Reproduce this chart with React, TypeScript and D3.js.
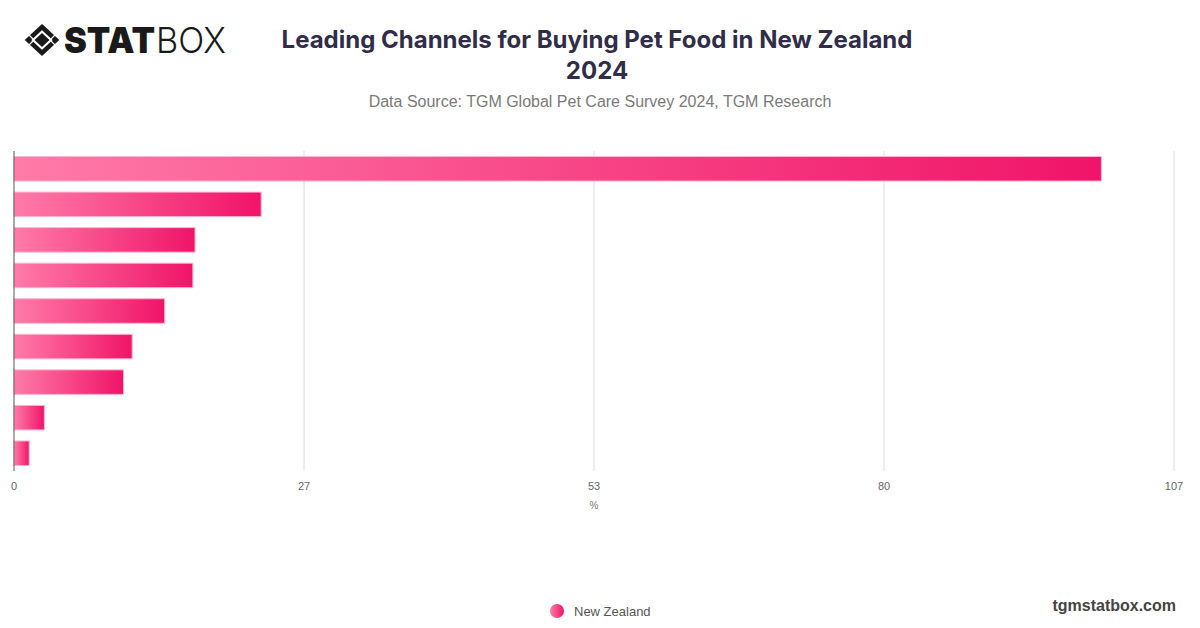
import React, { useEffect, useRef } from 'react';
import * as d3 from 'd3';

// channel order as drawn (no labels are shown in the chart)
const categories = ['c1', 'c2', 'c3', 'c4', 'c5', 'c6', 'c7', 'c8', 'c9'];
const seriesName = 'New Zealand';
const values = [100.3, 22.8, 16.7, 16.5, 13.9, 10.9, 10.1, 2.8, 1.4];
const axisMax = 107;
const tickLabels = ['0', '27', '53', '80', '107'];

const W = 1200;
const H = 628;

export default function App() {
  const ref = useRef<SVGSVGElement>(null);

  useEffect(() => {
    if (!ref.current) return;
    const svg = d3.select(ref.current);
    svg.selectAll('*').remove();

    const margin = { left: 14, right: 26, top: 151, bottom: 157 };
    const x = d3.scaleLinear().domain([0, axisMax]).range([margin.left, W - margin.right]);
    const y = d3
      .scaleBand<string>()
      .domain(categories)
      .range([margin.top, H - margin.bottom])
      .paddingInner(0.31)
      .paddingOuter(0.155);

    const defs = svg.append('defs');
    const grad = defs
      .append('linearGradient')
      .attr('id', 'barGrad')
      .attr('x1', '0%')
      .attr('x2', '100%')
      .attr('y1', '0%')
      .attr('y2', '0%');
    grad.append('stop').attr('offset', '0%').attr('stop-color', '#ff7ba8');
    grad.append('stop').attr('offset', '100%').attr('stop-color', '#f01468');

    // Header: logo
    const logo = svg.append('g');
    const cx = 42;
    const cy = 40;
    logo
      .append('path')
      .attr('d', `M${cx},${cy - 13} L${cx + 14},${cy} L${cx},${cy + 13} L${cx - 14},${cy} Z`)
      .attr('fill', 'none')
      .attr('stroke', '#1a1a1a')
      .attr('stroke-width', 4.5)
      .attr('stroke-linejoin', 'miter');
    logo
      .append('path')
      .attr('d', `M${cx},${cy - 7} L${cx + 7.5},${cy} L${cx},${cy + 7} L${cx - 7.5},${cy} Z`)
      .attr('fill', '#1a1a1a');
    // small cuts on the outer frame
    [[-1, -1], [1, -1], [1, 1], [-1, 1]].forEach(([dx, dy]) => {
      logo
        .append('line')
        .attr('x1', cx + dx * 9)
        .attr('y1', cy + dy * 1)
        .attr('x2', cx + dx * 14)
        .attr('y2', cy + dy * 6)
        .attr('stroke', '#fff')
        .attr('stroke-width', 1.2);
    });
    logo
      .append('text')
      .attr('x', 64)
      .attr('y', 53)
      .attr('font-family', 'Inter, "DejaVu Sans", sans-serif')
      .attr('font-weight', 900)
      .attr('font-size', 36)
      .attr('textLength', 91)
      .attr('lengthAdjust', 'spacingAndGlyphs')
      .attr('fill', '#1a1a1a')
      .text('STAT');
    logo
      .append('text')
      .attr('x', 156)
      .attr('y', 53)
      .attr('font-family', 'Inter, "DejaVu Sans", sans-serif')
      .attr('font-weight', 300)
      .attr('font-size', 36)
      .attr('textLength', 70)
      .attr('lengthAdjust', 'spacingAndGlyphs')
      .attr('fill', '#1a1a1a')
      .text('BOX');

    // Title
    svg
      .append('text')
      .attr('x', 597)
      .attr('y', 48)
      .attr('text-anchor', 'middle')
      .attr('font-family', 'Inter, "Liberation Sans", sans-serif')
      .attr('font-weight', 700)
      .attr('font-size', 24)
      .attr('fill', '#312d48')
      .text('Leading Channels for Buying Pet Food in New Zealand');
    svg
      .append('text')
      .attr('x', 597)
      .attr('y', 79)
      .attr('text-anchor', 'middle')
      .attr('font-family', 'Inter, "Liberation Sans", sans-serif')
      .attr('font-weight', 700)
      .attr('font-size', 24)
      .attr('fill', '#312d48')
      .text('2024');
    svg
      .append('text')
      .attr('x', 600)
      .attr('y', 107)
      .attr('text-anchor', 'middle')
      .attr('font-family', '"Liberation Sans", Arial, sans-serif')
      .attr('font-size', 16)
      .attr('fill', '#7a7a7a')
      .text('Data Source: TGM Global Pet Care Survey 2024, TGM Research');

    // Grid lines
    const tickValues = tickLabels.map((_, i) => (axisMax / (tickLabels.length - 1)) * i);
    const plotBottom = H - margin.bottom;
    svg
      .append('g')
      .selectAll('line')
      .data(tickValues.slice(1))
      .enter()
      .append('line')
      .attr('x1', d => x(d))
      .attr('x2', d => x(d))
      .attr('y1', margin.top)
      .attr('y2', plotBottom)
      .attr('stroke', '#dcdcdc')
      .attr('stroke-width', 1);

    // Bars
    svg
      .append('g')
      .selectAll('rect')
      .data(values)
      .enter()
      .append('rect')
      .attr('x', x(0))
      .attr('y', (_, i) => y(categories[i]) as number)
      .attr('width', d => x(d) - x(0))
      .attr('height', y.bandwidth())
      .attr('fill', 'url(#barGrad)')
      .attr('stroke', '#ffb6d0')
      .attr('stroke-width', 1);

    // Left axis line
    svg
      .append('line')
      .attr('x1', x(0))
      .attr('x2', x(0))
      .attr('y1', margin.top)
      .attr('y2', plotBottom)
      .attr('stroke', '#555')
      .attr('stroke-width', 1);

    // Tick labels
    svg
      .append('g')
      .selectAll('text')
      .data(tickValues)
      .enter()
      .append('text')
      .attr('x', d => x(d))
      .attr('y', 490)
      .attr('text-anchor', 'middle')
      .attr('font-family', '"Liberation Sans", Arial, sans-serif')
      .attr('font-size', 11)
      .attr('fill', '#666')
      .text((_, i) => tickLabels[i]);

    svg
      .append('text')
      .attr('x', x(axisMax / 2))
      .attr('y', 509)
      .attr('text-anchor', 'middle')
      .attr('font-family', '"Liberation Sans", Arial, sans-serif')
      .attr('font-size', 10)
      .attr('fill', '#777')
      .text('%');

    // Legend
    svg
      .append('circle')
      .attr('cx', 557)
      .attr('cy', 611)
      .attr('r', 7)
      .attr('fill', 'url(#barGrad)');
    svg
      .append('text')
      .attr('x', 574)
      .attr('y', 615.5)
      .attr('font-family', '"Liberation Sans", Arial, sans-serif')
      .attr('font-size', 13)
      .attr('fill', '#555')
      .text(seriesName);

    svg
      .append('text')
      .attr('x', 1176)
      .attr('y', 611)
      .attr('text-anchor', 'end')
      .attr('font-family', '"Liberation Sans", Arial, sans-serif')
      .attr('font-weight', 700)
      .attr('font-size', 16)
      .attr('fill', '#444')
      .text('tgmstatbox.com');
  }, []);

  return (
    <svg
      ref={ref}
      width={W}
      height={H}
      style={{ position: 'absolute', left: 0, top: 0, background: '#fff' }}
    />
  );
}
